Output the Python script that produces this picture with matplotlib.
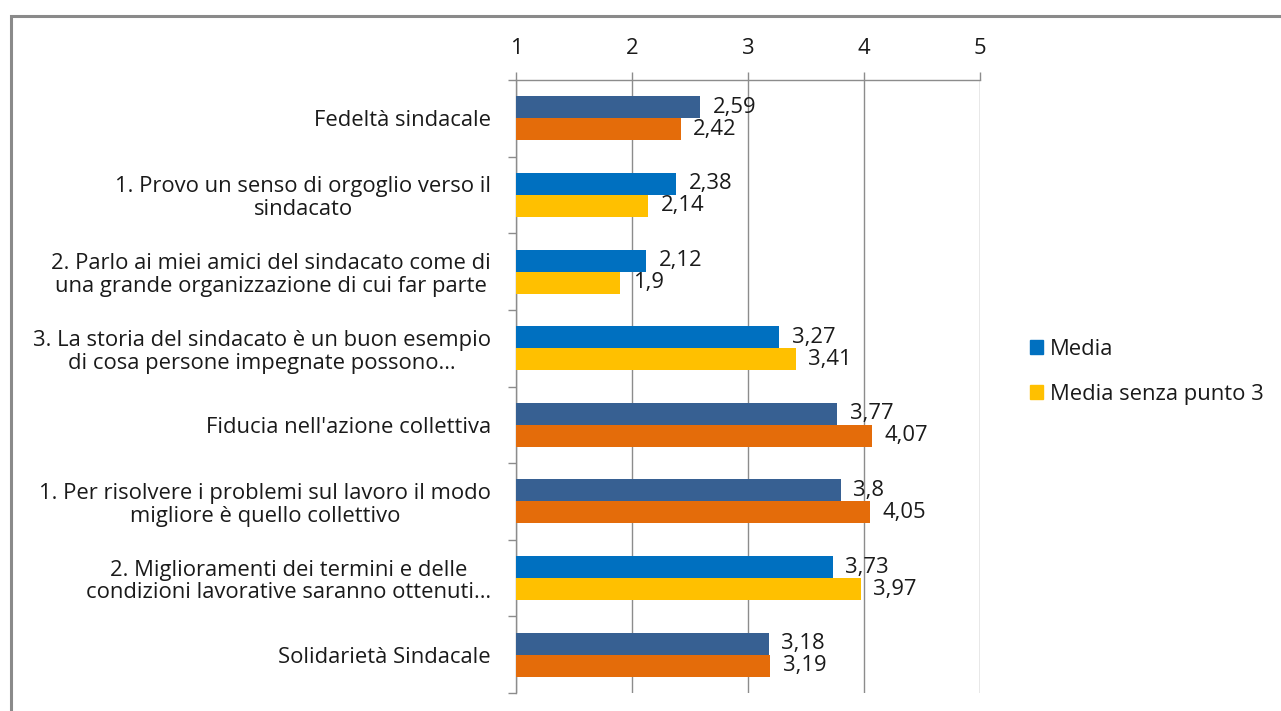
import matplotlib
matplotlib.use("Agg")
import matplotlib.pyplot as plt
from matplotlib.patches import Rectangle, Patch
from matplotlib.ticker import FixedLocator

categories = [
    "Fedeltà sindacale",
    "1. Provo un senso di orgoglio verso il\nsindacato",
    "2. Parlo ai miei amici del sindacato come di\nuna grande organizzazione di cui far parte",
    "3. La storia del sindacato è un buon esempio\ndi cosa persone impegnate possono…",
    "Fiducia nell'azione collettiva",
    "1. Per risolvere i problemi sul lavoro il modo\nmigliore è quello collettivo",
    "2. Miglioramenti dei termini e delle\ncondizioni lavorative saranno ottenuti…",
    "Solidarietà Sindacale",
]
media = [2.59, 2.38, 2.12, 3.27, 3.77, 3.80, 3.73, 3.18]
media_senza = [2.42, 2.14, 1.90, 3.41, 4.07, 4.05, 3.97, 3.19]
media_labels = ["2,59", "2,38", "2,12", "3,27", "3,77", "3,8", "3,73", "3,18"]
senza_labels = ["2,42", "2,14", "1,9", "3,41", "4,07", "4,05", "3,97", "3,19"]
summary_rows = [0, 4, 5, 7]
series_names = ["Media", "Media senza punto 3"]
xticks = [1, 2, 3, 4, 5]

FONT = "Open Sans"
FS = 15.8
plt.rcParams["font.family"] = [FONT, "DejaVu Sans"]
TXT = "#1a1a1a"
GRID = "#8c8c8c"

c_blue, c_yellow = "#0070C0", "#FFC000"
c_dblue, c_orange = "#376092", "#E46C0A"

W, H = 1281, 711
fig = plt.figure(figsize=(W / 100, H / 100), dpi=100)
fig.patches.append(Rectangle((11 / W, -0.1), 1.2, 1 - 16 / H + 0.1, transform=fig.transFigure,
                             fill=False, edgecolor="#8a8a8a", linewidth=2.2, zorder=0))

ax = fig.add_axes([516 / W, 1 - 693 / H, (980 - 516) / W, (693 - 80) / H])
n = len(categories)
ys = list(range(n))
bh = 0.287
for i in ys:
    c1 = c_dblue if i in summary_rows else c_blue
    c2 = c_orange if i in summary_rows else c_yellow
    ax.barh(i - bh / 2, media[i] - 1, left=1, height=bh, color=c1, zorder=3)
    ax.barh(i + bh / 2, media_senza[i] - 1, left=1, height=bh, color=c2, zorder=3)
    ax.annotate(media_labels[i], (media[i], i - bh / 2), xytext=(9, 0), textcoords="offset points",
                va="center", ha="left", fontsize=FS, color=TXT, zorder=4)
    ax.annotate(senza_labels[i], (media_senza[i], i + bh / 2), xytext=(9, 0), textcoords="offset points",
                va="center", ha="left", fontsize=FS, color=TXT, zorder=4)

ax.set_xlim(1, 5)
ax.set_ylim(n - 0.5, -0.5)
ax.xaxis.tick_top()
ax.set_xticks(xticks)
ax.set_xticklabels([str(t) for t in xticks])
ax.tick_params(axis="x", which="major", length=6, width=1, color=GRID, pad=9, labelsize=FS, labelcolor=TXT)
ax.set_yticks(ys)
ax.set_yticklabels(categories, fontsize=FS, color=TXT, linespacing=1.12)
ax.tick_params(axis="y", which="major", length=0, pad=18)
ax.yaxis.set_minor_locator(FixedLocator([k - 0.5 for k in range(n + 1)]))
ax.tick_params(axis="y", which="minor", length=6, width=1, color=GRID)
for lab in ax.get_yticklabels():
    lab.set_horizontalalignment("right")
    lab.set_multialignment("center")
ax.grid(axis="x", color=GRID, linewidth=1, zorder=0)
for s in ["right", "bottom"]:
    ax.spines[s].set_visible(False)
for s in ["top", "left"]:
    ax.spines[s].set_color(GRID)
    ax.spines[s].set_linewidth(1)

handles = [Patch(color=c_blue), Patch(color=c_yellow)]
fig.legend(handles, series_names, loc="center left", bbox_to_anchor=(1010 / W, 1 - 372 / H),
           frameon=False, fontsize=FS, handlelength=0.6, handleheight=0.6, handletextpad=0.3,
           labelspacing=1.1, labelcolor=TXT)

fig.savefig("out.png", dpi=100)
